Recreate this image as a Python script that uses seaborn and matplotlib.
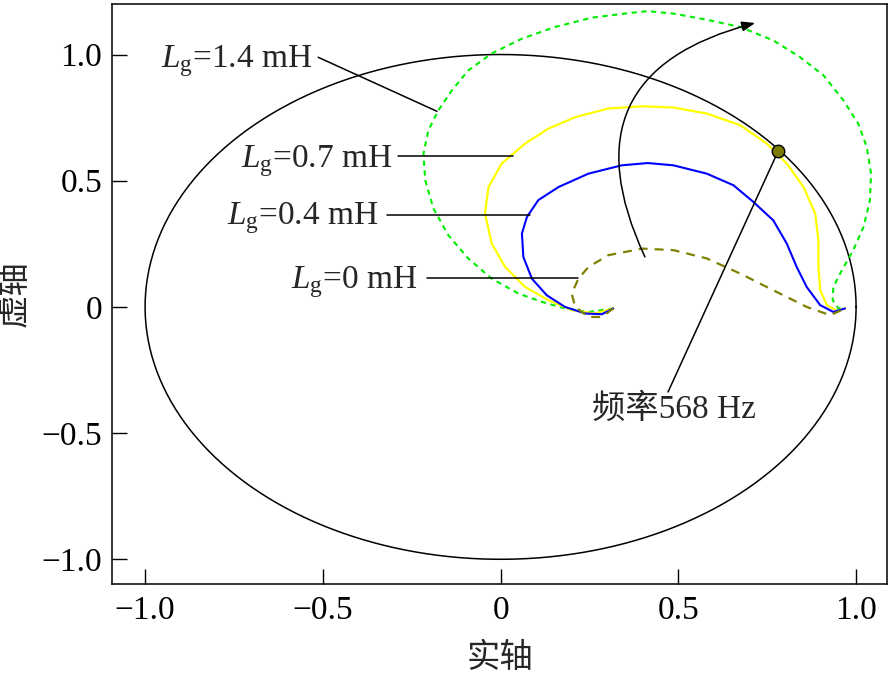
import numpy as np
import pandas as pd
import matplotlib
matplotlib.use('Agg')
import matplotlib.pyplot as plt
import seaborn as sns

# ---- data ----
x_lg14 = [0.317, 0.247, 0.181, 0.116, 0.050, -0.025, -0.091, -0.147, -0.189, -0.212, -0.217,
          -0.203, -0.175, -0.137, -0.091, -0.025, 0.06, 0.153, 0.257, 0.36, 0.414, 0.486,
          0.58, 0.674, 0.767, 0.842, 0.908, 0.964, 1.006, 1.03, 1.042, 1.039, 1.021, 0.992,
          0.96, 0.936, 0.934, 0.95, 0.969]
y_lg14 = [-0.006, -0.02, -0.006, 0.02, 0.053, 0.112, 0.192, 0.284, 0.39, 0.502, 0.607,
          0.70, 0.779, 0.858, 0.937, 1.004, 1.063, 1.109, 1.146, 1.164, 1.172, 1.162,
          1.138, 1.109, 1.056, 0.99, 0.918, 0.819, 0.726, 0.634, 0.528, 0.423, 0.317, 0.225,
          0.145, 0.079, 0.027, -0.006, -0.006]

x_lg07 = [0.317, 0.266, 0.2, 0.134, 0.069, 0.013, -0.025, -0.044, -0.034, 0.003, 0.069,
          0.134, 0.21, 0.303, 0.399, 0.486, 0.58, 0.674, 0.749, 0.805, 0.852, 0.885, 0.894,
          0.894, 0.899, 0.918, 0.946, 0.969]
y_lg07 = [-0.006, -0.026, -0.013, 0.027, 0.079, 0.158, 0.251, 0.37, 0.475, 0.568, 0.647,
          0.706, 0.752, 0.786, 0.795, 0.79, 0.766, 0.72, 0.647, 0.568, 0.475, 0.37, 0.264,
          0.158, 0.066, 0.007, -0.016, -0.006]

x_lg04 = [0.317, 0.285, 0.238, 0.181, 0.13, 0.088, 0.064, 0.06, 0.074, 0.106, 0.163, 0.247,
          0.341, 0.414, 0.486, 0.58, 0.655, 0.711, 0.767, 0.805, 0.833, 0.861, 0.899, 0.936,
          0.969]
y_lg04 = [-0.006, -0.029, -0.026, 0.0, 0.046, 0.112, 0.198, 0.291, 0.356, 0.423, 0.475, 0.528,
          0.561, 0.57, 0.561, 0.528, 0.482, 0.416, 0.343, 0.251, 0.158, 0.079, 0.007, -0.02,
          -0.006]

x_lg0 = [0.317, 0.285, 0.247, 0.21, 0.2, 0.219, 0.247, 0.303, 0.399, 0.486, 0.58, 0.674,
         0.767, 0.861, 0.927, 0.969]
y_lg0 = [-0.006, -0.04, -0.04, 0.0, 0.053, 0.112, 0.158, 0.205, 0.231, 0.225, 0.192, 0.132,
         0.066, 0.0, -0.033, -0.006]

cross_pt = (0.781, 0.618)   # 568 Hz point

x_ticks = [-1.0, -0.5, 0.0, 0.5, 1.0]
x_ticklabels = ['\u22121.0', '\u22120.5', '0', '0.5', '1.0']
y_ticks = [-1.0, -0.5, 0.0, 0.5, 1.0]
y_ticklabels = ['\u22121.0', '\u22120.5', '0', '0.5', '1.0']

labels = [r'$L_{\rm g}$=1.4 mH', r'$L_{\rm g}$=0.7 mH', r'$L_{\rm g}$=0.4 mH', r'$L_{\rm g}$=0 mH']

# ---- style ----
sns.set_style('ticks')
plt.rcParams['font.family'] = ['Liberation Serif', 'Noto Sans CJK SC']
plt.rcParams['mathtext.fontset'] = 'custom'
plt.rcParams['mathtext.rm'] = 'Liberation Serif'
plt.rcParams['mathtext.it'] = 'Liberation Serif:italic'
plt.rcParams['axes.unicode_minus'] = False

FS = 24
fig = plt.figure(figsize=(8.94, 6.74), dpi=100)
ax = fig.add_axes([0.1253, 0.1335, 0.8669, 0.8605])

theta = np.linspace(0, 2 * np.pi, 400)
sns.lineplot(x=np.cos(theta), y=np.sin(theta), sort=False, estimator=None,
             color='black', lw=1.1, ax=ax)

sns.lineplot(x=x_lg14, y=y_lg14, sort=False, estimator=None, color='#00ee00', lw=1.5,
             ax=ax, linestyle=(0, (2.5, 2.2)))
sns.lineplot(x=x_lg07, y=y_lg07, sort=False, estimator=None, color='#ffff00', lw=1.6, ax=ax)
sns.lineplot(x=x_lg04, y=y_lg04, sort=False, estimator=None, color='#0000ff', lw=1.5, ax=ax)
sns.lineplot(x=x_lg0, y=y_lg0, sort=False, estimator=None, color='#808000', lw=1.6,
             ax=ax, linestyle=(0, (4.0, 3.2)))

# 568 Hz point and leader
ax.plot([cross_pt[0], 0.471], [cross_pt[1], -0.337], color='black', lw=1.1, zorder=4)
ax.plot([cross_pt[0]], [cross_pt[1]], marker='o', ms=9, mfc='#7a7a00', mec='black',
        mew=1.0, zorder=5)
ax.text(0.257, -0.441, '频率568 Hz', fontsize=FS, ha='left', va='baseline')

# frequency direction arrow
ax.annotate('', xy=(0.716, 1.125), xytext=(0.406, 0.198),
            arrowprops=dict(arrowstyle='-|>,head_length=0.8,head_width=0.3', color='black',
                            lw=1.1, connectionstyle='arc3,rad=-0.6', shrinkA=0, shrinkB=0),
            zorder=4)

# curve labels with leader lines
lab_pos = [(-0.53, 0.949), (-0.305, 0.553), (-0.344, 0.327), (-0.235, 0.074)]
leaders = [((-0.513, -0.179), (0.989, 0.775)),
           ((-0.288, 0.035), (0.597, 0.597)),
           ((-0.319, 0.083), (0.363, 0.363)),
           ((-0.207, 0.218), (0.114, 0.114))]
for lab, (tx, ty), (lx, ly) in zip(labels, lab_pos, leaders):
    ax.text(tx, ty, lab, fontsize=FS, ha='right', va='baseline')
    ax.plot(lx, ly, color='black', lw=1.1)

ax.set_xlim(-1.093, 1.087)
ax.set_ylim(-1.098, 1.2)
ax.set_xticks(x_ticks)
ax.set_xticklabels(x_ticklabels, fontsize=FS)
ax.set_yticks(y_ticks)
ax.set_yticklabels(y_ticklabels, fontsize=FS)
ax.tick_params(axis='x', direction='in', length=11, width=1.0, pad=8, colors='black')
ax.tick_params(axis='y', direction='in', length=11, width=1.0, pad=7, colors='black')
for s in ax.spines.values():
    s.set_visible(True)
    s.set_linewidth(1.1)
    s.set_color('black')
ax.set_xlabel('实轴', fontsize=FS, labelpad=12)
ax.set_ylabel('虚轴', fontsize=FS, labelpad=8)

fig.savefig('out.png', dpi=100)
